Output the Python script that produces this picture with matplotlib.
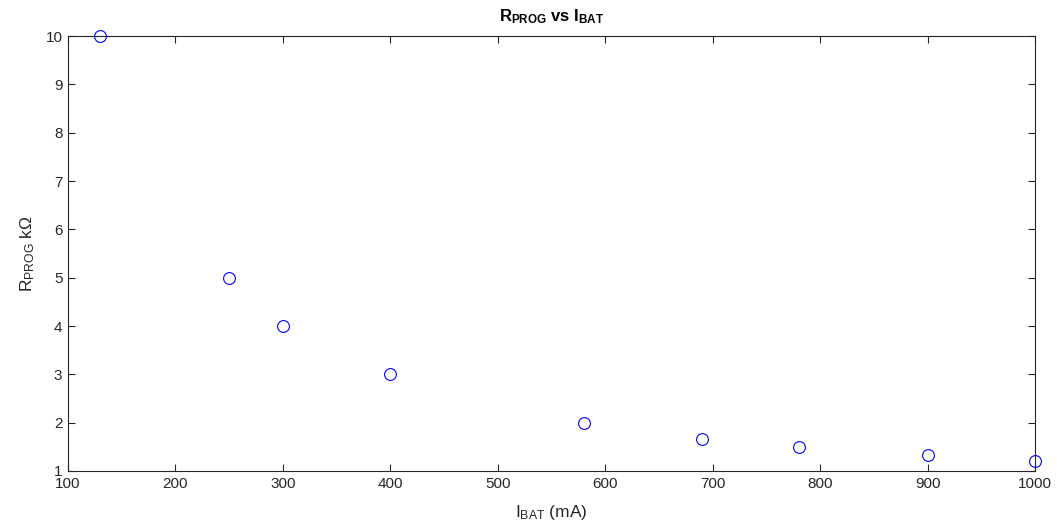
import matplotlib
matplotlib.use("Agg")
import matplotlib.pyplot as plt

# charge current (mA) vs programming resistor (kOhm)
i_bat = [130, 250, 300, 400, 580, 690, 780, 900, 1000]
r_prog = [10, 5, 4, 3, 2, 1.66, 1.5, 1.33, 1.2]

plt.rcParams["font.family"] = ["Liberation Sans", "DejaVu Sans"]
plt.rcParams["mathtext.fontset"] = "custom"
plt.rcParams["mathtext.rm"] = "Liberation Sans"
plt.rcParams["mathtext.bf"] = "Liberation Sans:bold"
plt.rcParams["mathtext.it"] = "Liberation Sans"

ink = "#262626"
fig = plt.figure(figsize=(10.57, 5.31), dpi=100)
ax = fig.add_axes([0.0643, 0.113, 0.915, 0.819])

ax.plot(i_bat, r_prog, linestyle="none", marker="o", markersize=8.5,
        markerfacecolor="none", markeredgecolor="#0000ff", markeredgewidth=0.8,
        clip_on=False, zorder=3)

ax.set_xlim(100, 1000)
ax.set_ylim(1, 10)
ax.set_xticks(range(100, 1001, 100))
ax.set_yticks(range(1, 11))

ax.tick_params(direction="in", top=True, right=True, length=5, width=0.8,
               colors=ink, labelsize=11, pad=4)
for s in ax.spines.values():
    s.set_color(ink)
    s.set_linewidth(0.8)

ax.set_title(r"$\mathbf{R_{PROG}}$ $\mathbf{vs}$ $\mathbf{I_{BAT}}$",
             fontsize=12, color="black", pad=11)
ax.set_xlabel(r"$\mathregular{I_{BAT}}$ (mA)", fontsize=12.5, color=ink, labelpad=9)
ax.set_ylabel(r"$\mathregular{R_{PROG}}$ kΩ", fontsize=12.5, color=ink, labelpad=6)

fig.savefig("out.png", dpi=100)
